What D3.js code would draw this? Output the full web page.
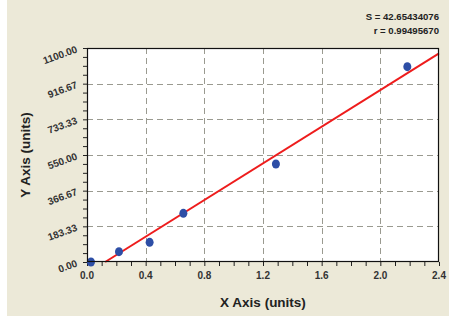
<!DOCTYPE html>
<html>
<head>
<meta charset="utf-8">
<script src="https://cdn.jsdelivr.net/npm/d3@7"></script>
<style>
  body { margin: 0; background: #fff; }
  svg { display: block; font-family: Arial, "Liberation Sans", sans-serif; }
</style>
</head>
<body>
<svg id="chart" width="462" height="329"></svg>
<script>
// standard curve points
const xValues = [0.027, 0.218, 0.427, 0.657, 1.288, 2.184];
const yValues = [0, 53, 101, 250, 504, 1004];
const xTicks = [0.0, 0.4, 0.8, 1.2, 1.6, 2.0, 2.4];
const yTicks = [0, 183.33, 366.67, 550, 733.33, 916.67, 1100];
const statLines = ['S = 42.65434076', 'r = 0.99495670'];

const svg = d3.select('#chart');
const plotL = 87, plotR = 439, plotT = 48, plotB = 262;

svg.append('rect')
    .attr('x', 7).attr('y', 0)
    .attr('width', 442).attr('height', 316)
    .attr('fill', '#ece9d8');

const x = d3.scaleLinear().domain([0, 2.4]).range([plotL, plotR]);
const y = d3.scaleLinear().domain([0, 1100]).range([plotB, plotT]);

svg.append('rect')
    .attr('x', plotL).attr('y', plotT)
    .attr('width', plotR - plotL).attr('height', plotB - plotT)
    .attr('fill', '#fff');

// grid
const grid = svg.append('g')
    .attr('stroke', '#9a9a90')
    .attr('stroke-width', 1)
    .attr('stroke-dasharray', '6,4');
grid.selectAll('.gx')
    .data(xTicks.slice(1, -1))
    .enter().append('line')
    .attr('x1', d => Math.round(x(d)) + 0.5).attr('x2', d => Math.round(x(d)) + 0.5)
    .attr('y1', plotT).attr('y2', plotB);
grid.selectAll('.gy')
    .data(yTicks.slice(1, -1))
    .enter().append('line')
    .attr('y1', d => Math.round(y(d)) + 0.5).attr('y2', d => Math.round(y(d)) + 0.5)
    .attr('x1', plotL).attr('x2', plotR);

// minor ticks
const xMinor = d3.range(0, 2.4001, 0.1);
const yMinor = d3.range(0, 1100.01, 1100 / 24);

const xAxis = d3.axisBottom(x).tickValues(xMinor).tickSize(4).tickFormat('');
svg.append('g')
    .attr('transform', `translate(0,${plotB})`)
    .call(xAxis)
    .call(g => g.select('.domain').remove())
    .call(g => g.selectAll('line').attr('stroke', '#222'));

const yAxis = d3.axisLeft(y).tickValues(yMinor).tickSize(4).tickFormat('');
svg.append('g')
    .attr('transform', `translate(${plotL},0)`)
    .call(yAxis)
    .call(g => g.select('.domain').remove())
    .call(g => g.selectAll('line').attr('stroke', '#222'));

// tick labels
svg.append('g').selectAll('text')
    .data(xTicks)
    .enter().append('text')
    .attr('x', d => x(d))
    .attr('y', plotB + 17)
    .attr('text-anchor', 'middle')
    .attr('font-size', 10)
    .attr('font-weight', 'bold')
    .attr('fill', '#333')
    .text(d => d.toFixed(1));

svg.append('g').selectAll('text')
    .data(yTicks)
    .enter().append('text')
    .attr('transform', d => `translate(${plotL - 9},${y(d) + 4}) rotate(-20)`)
    .attr('text-anchor', 'end')
    .attr('font-size', 10)
    .attr('font-weight', 'bold')
    .attr('fill', '#333')
    .text(d => d.toFixed(2));

// regression line
const mx = d3.mean(xValues), my = d3.mean(yValues);
const sxy = d3.sum(xValues, (v, i) => (v - mx) * (yValues[i] - my));
const sxx = d3.sum(xValues, v => (v - mx) * (v - mx));
const slope = sxy / sxx;
const intercept = my - slope * mx;
const x0 = -intercept / slope;

svg.append('line')
    .attr('x1', x(x0)).attr('y1', y(0))
    .attr('x2', x(2.4)).attr('y2', y(slope * 2.4 + intercept))
    .attr('stroke', '#ee1c1c')
    .attr('stroke-width', 2);

// points
svg.append('g').selectAll('ellipse')
    .data(xValues)
    .enter().append('ellipse')
    .attr('cx', d => x(d))
    .attr('cy', (d, i) => y(yValues[i]))
    .attr('rx', 4).attr('ry', 4.5)
    .attr('fill', '#2d4ea6');

// frame
svg.append('rect')
    .attr('x', plotL + 0.5).attr('y', plotT + 0.5)
    .attr('width', plotR - plotL - 1).attr('height', plotB - plotT - 1)
    .attr('fill', 'none')
    .attr('stroke', '#111')
    .attr('stroke-width', 1.2);

// axis titles
svg.append('text')
    .attr('x', (plotL + plotR) / 2)
    .attr('y', 307)
    .attr('text-anchor', 'middle')
    .attr('font-size', 13.5)
    .attr('font-weight', 'bold')
    .attr('fill', '#222')
    .text('X Axis (units)');

svg.append('text')
    .attr('transform', `translate(30,${(plotT + plotB) / 2}) rotate(-90)`)
    .attr('text-anchor', 'middle')
    .attr('font-size', 13.5)
    .attr('font-weight', 'bold')
    .attr('fill', '#222')
    .text('Y Axis (units)');

// stats
svg.append('g').selectAll('text')
    .data(statLines)
    .enter().append('text')
    .attr('x', plotR)
    .attr('y', (d, i) => 20 + i * 14)
    .attr('text-anchor', 'end')
    .attr('font-size', 9.6)
    .attr('font-weight', 'bold')
    .attr('fill', '#222')
    .text(d => d);
</script>
</body>
</html>
